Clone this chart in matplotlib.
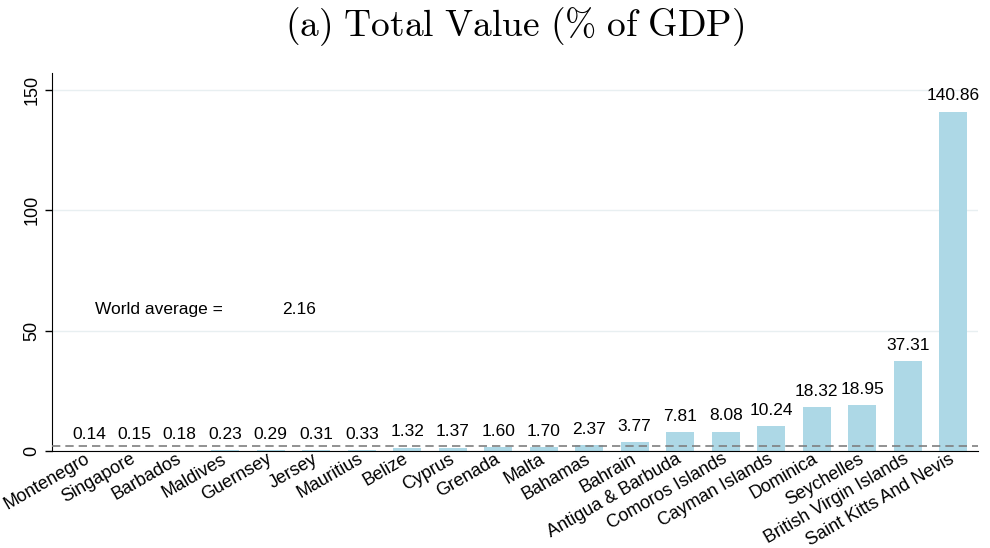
import numpy as np
import matplotlib
matplotlib.use("Agg")
import matplotlib.pyplot as plt

plt.rcParams['font.family'] = ['Liberation Sans', 'DejaVu Sans']
plt.rcParams['mathtext.fontset'] = 'cm'

countries = ["Montenegro", "Singapore", "Barbados", "Maldives", "Guernsey", "Jersey",
             "Mauritius", "Belize", "Cyprus", "Grenada", "Malta", "Bahamas", "Bahrain",
             "Antigua & Barbuda", "Comoros Islands", "Cayman Islands", "Dominica",
             "Seychelles", "British Virgin Islands", "Saint Kitts And Nevis"]
values = [0.14, 0.15, 0.18, 0.23, 0.29, 0.31, 0.33, 1.32, 1.37, 1.60, 1.70, 2.37,
          3.77, 7.81, 8.08, 10.24, 18.32, 18.95, 37.31, 140.86]
world_avg = 2.16

fig = plt.figure(figsize=(9.9, 5.48), dpi=100)
ax = fig.add_axes([0.0525, 0.177, 0.9355, 0.69])

x = np.arange(len(countries))
bars = ax.bar(x, values, width=0.62, color='#add8e6', zorder=2)
for xi, v in zip(x, values):
    ax.annotate(f"{v:.2f}", (xi, v), xytext=(0, 6), textcoords='offset points',
                ha='center', va='bottom', fontsize=12.5)

ax.axhline(world_avg, color='#7f7f7f', linestyle=(0, (5, 3)), linewidth=1.2, zorder=3)
ax.text(0.13, 58.6, "World average =", fontsize=12.5, va='center')
ax.text(4.24, 58.6, f"{world_avg:.2f}", fontsize=12.5, va='center')

ax.set_xlim(-0.81, len(countries) - 0.45)
ax.set_ylim(0, 157)
ax.set_yticks([0, 50, 100, 150])
ax.set_yticklabels(["0", "50", "100", "150"], rotation=90, va='center', fontsize=13)
ax.set_xticks(x)
ax.set_xticklabels(countries, rotation=30, ha='right', va='center',
                   rotation_mode='anchor', fontsize=13)
ax.tick_params(axis='x', length=0, pad=5)
ax.tick_params(axis='y', length=5, width=1)
ax.yaxis.grid(True, color='#e8eff1', linewidth=1, zorder=0)
ax.set_axisbelow(True)
for s in ['top', 'right']:
    ax.spines[s].set_visible(False)

fig.suptitle(r"$\mathrm{(a)\ Total\ Value\ (\%\ of\ GDP)}$", fontsize=27, x=0.52, y=0.99)

fig.savefig("out.png", dpi=100)
